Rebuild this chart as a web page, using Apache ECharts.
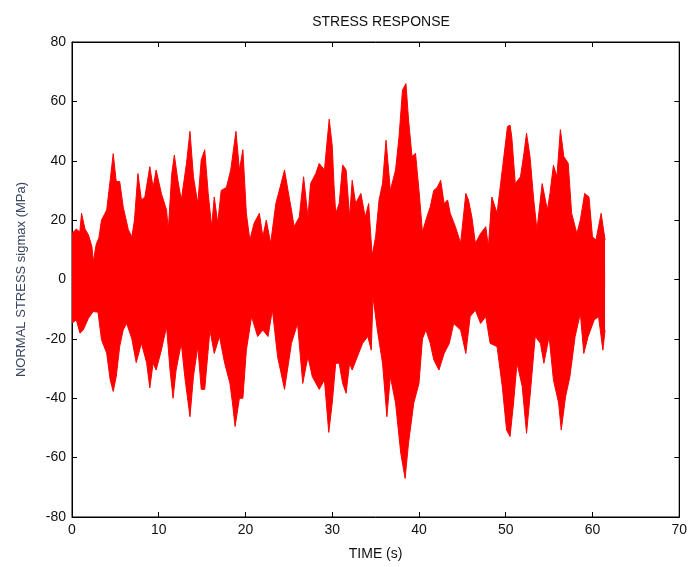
<!DOCTYPE html>
<html>
<head>
<meta charset="utf-8">
<script src="https://cdn.jsdelivr.net/npm/echarts@6/dist/echarts.min.js"></script>
<style>
  html, body { margin: 0; padding: 0; background: #fff; }
  #chart { width: 690px; height: 567px; }
</style>
</head>
<body>
<div id="chart"></div>
<script>
// upper envelope of the stress signal
const upperTime = [0, 0.5, 0.9, 1.1, 1.5, 1.9, 2.3, 2.45, 2.8, 3.1, 3.4, 4.0, 4.4, 4.75, 5.1, 5.5, 5.9, 6.5, 6.9, 7.2,
  7.6, 8.0, 8.4, 8.97, 9.35, 9.7, 10.3, 10.9, 11.1, 11.5, 11.8, 12.2, 12.6, 13.2, 13.6, 14.0, 14.5, 14.9, 15.3, 15.7,
  16.1, 16.4, 16.8, 17.2, 17.8, 18.3, 18.9, 19.3, 19.7, 20.1, 20.5, 21.0, 21.6, 22.0, 22.4, 22.9, 23.5, 24.1, 24.5, 24.9,
  25.3, 25.6, 26.2, 26.7, 27.2, 27.5, 28.1, 28.5, 29.1, 29.65, 30.0, 30.2, 30.4, 30.8, 31.2, 31.6, 32.0, 32.3, 32.7, 33.3,
  33.8, 34.2, 34.6, 35.0, 35.4, 35.8, 36.2, 36.7, 37.3, 37.7, 38.1, 38.5, 38.8, 39.2, 39.6, 40.0, 40.4, 40.9, 41.3, 41.7,
  42.1, 42.5, 42.9, 43.3, 43.6, 44.2, 44.8, 45.4, 45.7, 46.1, 46.5, 47.1, 47.7, 48.0, 48.4, 49.0, 49.6, 50.2, 50.5, 50.7,
  51.1, 51.7, 52.1, 52.4, 52.8, 53.2, 53.6, 54.2, 54.8, 55.1, 55.5, 55.9, 56.3, 56.7, 57.2, 57.6, 58.2, 58.6, 59.1, 59.6,
  60.0, 60.4, 61.0, 61.45]
const upperVal = [15.5, 17, 16, 22.3, 17, 15, 11, 6, 12, 14, 20, 23.4, 33.4, 42.4, 33, 33, 24.5, 16.7, 14.4, 20,
  35.7, 26.8, 27.8, 38, 31, 36.9, 29, 23.4, 16.7, 35.7, 41.9, 33.4, 26.8, 39.2, 49.9, 34.6, 25.6, 40.3, 43.7, 29,
  17.8, 27.8, 19, 30, 31, 36.9, 49.9, 36.9, 43.7, 22.3, 13.3, 19, 22.3, 14.4, 20, 12.2, 25.6, 32.3, 36.9, 30,
  23.4, 17.8, 21, 34.6, 21, 32.3, 35.7, 39.1, 36.9, 54, 45, 32, 22.3, 25.6, 38.6, 36.9, 21, 33.4, 25.6, 29,
  21, 25.6, 8, 14.4, 26.8, 32.3, 46.9, 30, 36.9, 48, 63.8, 66, 53.7, 41.4, 42.5, 30, 16, 21, 24.5, 30,
  31, 33.4, 25.6, 26.8, 22.3, 17.8, 12.2, 29, 26.8, 21, 12.2, 15.5, 17.8, 11, 27.8, 22.3, 36.9, 51.5, 52, 48,
  32.3, 34.6, 42.5, 49.3, 41.4, 27.8, 16.7, 32.3, 23.4, 29, 38.5, 34.6, 50.5, 41.4, 39.2, 22.3, 15.5, 20, 29, 27.8,
  14.4, 13.3, 22.3, 13.3]

// lower envelope of the stress signal
const lowerTime = [0, 0.5, 0.92, 1.3, 1.9, 2.45, 3.0, 3.4, 4.0, 4.4, 4.75, 5.1, 5.5, 5.9, 6.3, 6.9, 7.4, 8.0, 8.6, 8.97,
  9.35, 9.7, 10.3, 10.9, 11.3, 11.65, 12.0, 12.6, 13.0, 13.6, 14.0, 14.5, 14.9, 15.3, 15.9, 16.4, 17.0, 17.6, 18.2, 18.5,
  18.8, 19.3, 19.7, 20.1, 20.7, 21.4, 22.0, 22.6, 23.1, 23.7, 24.5, 25.3, 26.0, 26.6, 27.2, 27.7, 28.5, 29.1, 29.6, 30.0,
  30.4, 30.8, 31.2, 31.6, 32.0, 32.3, 32.9, 33.5, 34.1, 34.5, 34.7, 35.2, 35.8, 36.3, 36.7, 37.3, 37.9, 38.4, 38.8, 39.4,
  40.0, 40.4, 40.8, 41.3, 41.7, 42.3, 42.9, 43.5, 44.0, 44.8, 45.4, 45.9, 46.5, 47.1, 47.7, 48.2, 49.0, 49.6, 50.1, 50.5,
  50.9, 51.3, 51.9, 52.4, 52.8, 53.4, 54.0, 54.4, 55.0, 55.5, 56.1, 56.4, 56.9, 57.4, 58.0, 58.6, 59.0, 59.5, 60.2, 60.7,
  61.2, 61.45]
const lowerVal = [-14.7, -13.6, -18.1, -17, -13, -10.8, -11, -20.3, -24.8, -33.8, -37.7, -32.7, -22.5, -17, -14.8, -20, -28, -21.5, -28, -36.5,
  -28.2, -30.5, -23.8, -15.9, -30.5, -40, -30.5, -21.5, -32.7, -46.2, -32.7, -22.6, -37, -37, -17, -24.9, -19.2, -28.2, -34.9, -41.6,
  -49.5, -40, -40, -23.8, -12.5, -19.2, -17, -19.2, -10.2, -26, -37, -21.5, -14.8, -35, -26, -32.7, -37, -33.8, -51.5, -41.6,
  -28.2, -28.2, -35, -38.3, -28.2, -30.5, -26, -21.5, -19.2, -23.8, -5.8, -17, -28.2, -46.2, -32.7, -41.6, -58.5, -67, -55, -41.6,
  -35, -20, -17, -21.5, -27, -30.5, -24.9, -21.5, -14.8, -17, -24.9, -12.5, -10.3, -14.8, -12.5, -21.5, -22.6, -36, -50.7, -52.9,
  -41.6, -28.2, -36, -51.8, -39.4, -19.2, -21.5, -28.2, -19.2, -33.8, -41.6, -50.7, -39.4, -32.7, -19.2, -11.4, -24.9, -19.2, -13.6, -12.5,
  -23.8, -17]

const xTicks = { min: 0, max: 70, interval: 10 }
const yTicks = { min: -80, max: 80, interval: 20 }

const myChart = echarts.init(document.getElementById('chart'))
const font = '"Liberation Sans", Arial, sans-serif'
const tickStyle = { inside: true, length: 5, lineStyle: { color: '#000' } }
const lineStyle = { lineStyle: { color: '#000', width: 1 }, onZero: false }

// the two halves overlap a little around zero so no seam shows
function band (times, vals, origin) {
  return {
    type: 'line',
    data: times.map((t, i) => [t, vals[i]]),
    showSymbol: false,
    animation: false,
    lineStyle: { color: '#ff0000', width: 1 },
    areaStyle: { color: '#ff0000', opacity: 1, origin: origin }
  }
}

myChart.setOption({
  title: {
    text: 'STRESS RESPONSE',
    left: 376,
    top: 10,
    textAlign: 'center',
    textStyle: { fontFamily: font, fontSize: 14, fontWeight: 'normal', color: '#111' }
  },
  grid: {
    left: 72,
    right: 9,
    top: 42,
    bottom: 50,
    show: true,
    borderColor: '#000',
    borderWidth: 1
  },
  xAxis: [
    {
      type: 'value',
      ...xTicks,
      name: 'TIME (s)',
      nameLocation: 'middle',
      nameGap: 30,
      nameTextStyle: { fontFamily: font, fontSize: 14, color: '#111' },
      axisLine: lineStyle,
      axisTick: tickStyle,
      axisLabel: { fontFamily: font, fontSize: 14, color: '#111', margin: 6 },
      splitLine: { show: false }
    },
    {
      type: 'value',
      position: 'top',
      ...xTicks,
      axisLine: lineStyle,
      axisTick: tickStyle,
      axisLabel: { show: false },
      splitLine: { show: false }
    }
  ],
  yAxis: [
    {
      type: 'value',
      ...yTicks,
      name: 'NORMAL STRESS sigmax (MPa)',
      nameLocation: 'middle',
      nameGap: 44,
      nameTextStyle: { fontFamily: font, fontSize: 13, color: '#3a4560' },
      axisLine: lineStyle,
      axisTick: tickStyle,
      axisLabel: { fontFamily: font, fontSize: 14, color: '#111', margin: 6 },
      splitLine: { show: false }
    },
    {
      type: 'value',
      position: 'right',
      ...yTicks,
      axisLine: lineStyle,
      axisTick: tickStyle,
      axisLabel: { show: false },
      splitLine: { show: false }
    }
  ],
  series: [
    band(upperTime, upperVal, -3),
    band(lowerTime, lowerVal, 3)
  ]
})
</script>
</body>
</html>
